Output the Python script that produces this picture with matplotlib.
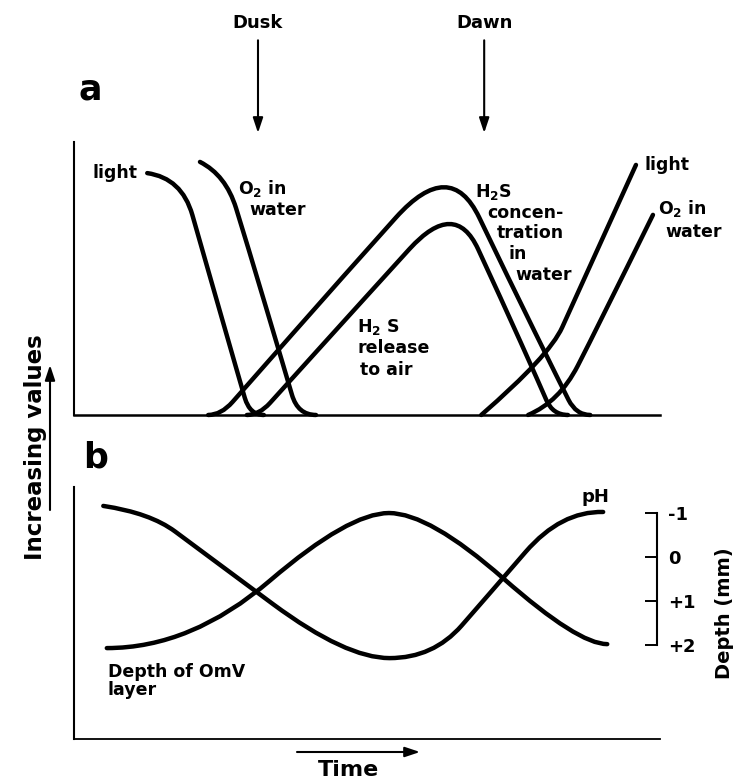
import numpy as np
import matplotlib
matplotlib.use("Agg")
import matplotlib.pyplot as plt
from matplotlib.path import Path
from matplotlib.patches import PathPatch

plt.rcParams['font.family'] = ['DejaVu Sans']
plt.rcParams['font.weight'] = 'bold'
plt.rcParams['mathtext.default'] = 'bf'

# ---------------- data ----------------
# Each curve is given by the control vertices of its hand-drawn outline
# (time in arbitrary units 0-100, values in arbitrary units 0-100).
# panel a
light_dusk_t = [12.5, 18.4, 22.0, 28.3, 30.0, 32.4]
light_dusk_v = [88.6, 86.8, 59.7, 12.5, 0.0, 0.0]
o2_dusk_t = [21.5, 25.9, 29.4, 36.2, 38.2, 41.3]
o2_dusk_v = [92.7, 87.9, 63.7, 14.7, 0.0, 0.0]
h2s_water_t = [22.9, 25.1, 29.0, 45.7, 64.2, 74.1, 83.1, 85.7, 88.1]
h2s_water_v = [0.0, 0.0, 9.5, 50.2, 94.5, 50.2, 11.0, 0.0, 0.0]
h2s_air_t = [29.5, 31.6, 35.3, 49.5, 65.0, 72.9, 79.5, 81.7, 84.3]
h2s_air_v = [0.0, 0.0, 8.8, 42.5, 79.1, 42.5, 11.0, 0.0, 0.0]
light_dawn_t = [69.5, 81.1, 85.5, 95.9]
light_dawn_v = [0.0, 21.6, 42.5, 91.6]
o2_dawn_t = [77.5, 82.8, 89.1, 98.8]
o2_dawn_v = [0.0, 4.8, 31.1, 73.3]
dusk_t = 31.4
dawn_t = 70.0

# panel b
ph_t = [5.0, 13.0, 21.5, 46.4, 61.3, 71.0, 83.1, 90.3]
ph_v = [92.5, 89.7, 75.0, 32.1, 32.1, 57.9, 90.5, 90.1]
depth_t = [5.6, 20.0, 46.9, 60.6, 86.0, 91.0]
depth_mm = [2.07, 2.07, -1.0, -1.0, 1.98, 1.98]
depth_ticks = [-1, 0, 1, 2]
depth_ticklabels = ['-1', '0', '+1', '+2']


# ---------------- helpers ----------------
def smooth_curve(ax, xs, ys, lw=3.2):
    """Quadratic B-spline through the control vertices (drawn as a Path)."""
    p = np.column_stack([xs, ys]).astype(float)
    n = len(p)
    verts = [p[0]]
    codes = [Path.MOVETO]
    for i in range(1, n - 2):
        verts += [p[i], (p[i] + p[i + 1]) / 2]
        codes += [Path.CURVE3, Path.CURVE3]
    verts += [p[n - 2], p[n - 1]]
    codes += [Path.CURVE3, Path.CURVE3]
    patch = PathPatch(Path(np.array(verts), codes), fill=False, lw=lw,
                      edgecolor='black', capstyle='round', joinstyle='round',
                      clip_on=False)
    ax.add_patch(patch)


def style_axes(ax, bottom_lw):
    for s in ['top', 'right']:
        ax.spines[s].set_visible(False)
    ax.spines['left'].set_linewidth(1.5)
    ax.spines['bottom'].set_linewidth(bottom_lw)
    ax.set_xticks([])
    ax.set_yticks([])


W, H = 737, 784
fig = plt.figure(figsize=(W / 100, H / 100), dpi=100)

# ---------------- panel a ----------------
ax_a = fig.add_axes([0.1004, 0.4707, 0.7951, 0.3482])
ax_a.set_xlim(0, 100)
ax_a.set_ylim(0, 100)
style_axes(ax_a, 1.8)

for t, v in [(light_dusk_t, light_dusk_v), (o2_dusk_t, o2_dusk_v),
             (h2s_water_t, h2s_water_v), (h2s_air_t, h2s_air_v),
             (light_dawn_t, light_dawn_v), (o2_dawn_t, o2_dawn_v)]:
    smooth_curve(ax_a, t, v)

fs = 12.5
ax_a.text(10.8, 88.6, 'light', ha='right', va='center', fontsize=fs)
ax_a.text(28.0, 83.0, 'O$_2$ in', ha='left', va='center', fontsize=fs)
ax_a.text(30.0, 75.1, 'water', ha='left', va='center', fontsize=fs)
ax_a.text(68.4, 81.6, 'H$_2$S', ha='left', va='center', fontsize=fs)
ax_a.text(70.5, 74.0, 'concen-', ha='left', va='center', fontsize=fs)
ax_a.text(72.2, 66.7, 'tration', ha='left', va='center', fontsize=fs)
ax_a.text(74.1, 59.0, 'in', ha='left', va='center', fontsize=fs)
ax_a.text(75.3, 51.3, 'water', ha='left', va='center', fontsize=fs)
ax_a.text(48.3, 32.4, 'H$_2$ S', ha='left', va='center', fontsize=fs)
ax_a.text(48.3, 24.5, 'release', ha='left', va='center', fontsize=fs)
ax_a.text(48.8, 16.5, 'to air', ha='left', va='center', fontsize=fs)
ax_a.text(97.4, 91.6, 'light', ha='left', va='center', fontsize=fs)
ax_a.text(99.7, 75.5, 'O$_2$ in', ha='left', va='center', fontsize=fs)
ax_a.text(100.9, 67.0, 'water', ha='left', va='center', fontsize=fs)

arrow_kw = dict(arrowstyle='-|>,head_length=0.9,head_width=0.3', lw=1.5,
                color='black', mutation_scale=10, shrinkB=0)
for t, lab in [(dusk_t, 'Dusk'), (dawn_t, 'Dawn')]:
    ax_a.annotate(lab, xy=(t, 1.033), xycoords=('data', 'axes fraction'),
                  xytext=(t, 1.436), textcoords=('data', 'axes fraction'),
                  ha='center', va='center', fontsize=13,
                  arrowprops=dict(arrow_kw, shrinkA=4))

# ---------------- panel b ----------------
ax_b = fig.add_axes([0.1004, 0.0574, 0.7951, 0.3214])
ax_b.set_xlim(0, 100)
ax_b.set_ylim(0, 100)
style_axes(ax_b, 1.3)

ax_d = ax_b.twinx()
ax_d.set_ylim(4.136, -1.591)
for s in ['left', 'top', 'bottom']:
    ax_d.spines[s].set_visible(False)
ax_d.spines['right'].set_bounds(-1, 2)
ax_d.spines['right'].set_position(('axes', 0.995))
ax_d.spines['right'].set_linewidth(1.5)
ax_d.set_yticks(depth_ticks)
ax_d.set_yticklabels(depth_ticklabels, fontsize=13, fontweight='bold')
ax_d.tick_params(axis='y', direction='in', length=9, width=1.4, pad=8)
ax_d.set_ylabel('Depth (mm)', fontsize=14, fontweight='bold', rotation=90, labelpad=14)

smooth_curve(ax_b, ph_t, ph_v)
smooth_curve(ax_d, depth_t, depth_mm)

ax_b.text(88.9, 96.0, 'pH', ha='center', va='center', fontsize=13)
ax_b.text(5.8, 26.6, 'Depth of OmV', ha='left', va='center', fontsize=fs)
ax_b.text(5.8, 19.4, 'layer', ha='left', va='center', fontsize=fs)

# ---------------- figure annotations ----------------
fig.text(90 / W, 1 - 90 / H, 'a', fontsize=25, ha='center', va='center')
fig.text(96 / W, 1 - 457 / H, 'b', fontsize=25, ha='center', va='center')
fig.text(36 / W, 1 - 447 / H, 'Increasing values', fontsize=16.5, rotation=90,
         ha='center', va='center')
ax_a.annotate('', xy=(50 / W, 1 - 365 / H), xycoords='figure fraction',
              xytext=(50 / W, 1 - 510 / H), textcoords='figure fraction',
              arrowprops=dict(arrow_kw, shrinkA=0))
fig.text(349 / W, 1 - 770 / H, 'Time', fontsize=16, ha='center', va='center')
ax_a.annotate('', xy=(420 / W, 1 - 752 / H), xycoords='figure fraction',
              xytext=(297 / W, 1 - 752 / H), textcoords='figure fraction',
              arrowprops=dict(arrow_kw, shrinkA=0))

fig.savefig('out.png', dpi=100)
